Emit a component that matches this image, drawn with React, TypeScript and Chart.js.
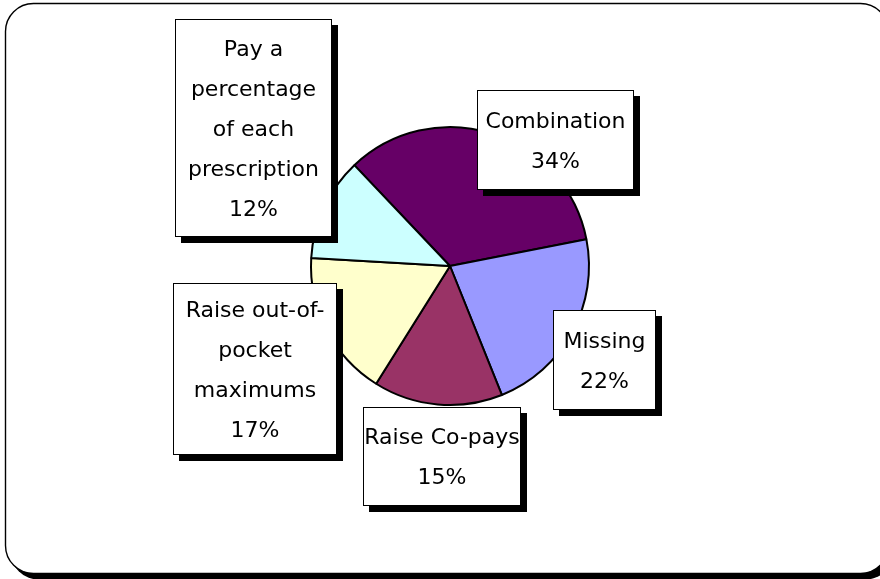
import React, { useEffect, useRef } from "react";
import { Chart, registerables } from "chart.js";

Chart.register(...registerables);

// ---- Data ----
const categories = [
  "Combination",
  "Missing",
  "Raise Co-pays",
  "Raise out-of-pocket maximums",
  "Pay a percentage of each prescription",
];
const values = [34, 22, 15, 17, 12];
const labelLines = [
  ["Combination"],
  ["Missing"],
  ["Raise Co-pays"],
  ["Raise out-of-", "pocket", "maximums"],
  ["Pay a", "percentage", "of each", "prescription"],
];
const sliceColors = ["#660066", "#9999FF", "#993366", "#FFFFCC", "#CCFFFF"];

// ---- Layout (label box placement, in canvas pixels) ----
const labelBoxes = [
  { x: 477, y: 90, w: 157, h: 100 },
  { x: 553, y: 310, w: 103, h: 100 },
  { x: 363, y: 407, w: 158, h: 99 },
  { x: 173, y: 283, w: 164, h: 172 },
  { x: 175, y: 19, w: 157, h: 218 },
];

const FONT = '22px "DejaVu Sans", sans-serif';
const LINE_H = 40;
const SHADOW = 6;

function roundRectPath(ctx: CanvasRenderingContext2D, x: number, y: number, w: number, h: number, r: number) {
  ctx.beginPath();
  ctx.moveTo(x + r, y);
  ctx.lineTo(x + w - r, y);
  ctx.arcTo(x + w, y, x + w, y + r, r);
  ctx.lineTo(x + w, y + h - r);
  ctx.arcTo(x + w, y + h, x + w - r, y + h, r);
  ctx.lineTo(x + r, y + h);
  ctx.arcTo(x, y + h, x, y + h - r, r);
  ctx.lineTo(x, y + r);
  ctx.arcTo(x, y, x + r, y, r);
  ctx.closePath();
}

const framePlugin = {
  id: "frame",
  beforeDraw(chart: any) {
    const ctx: CanvasRenderingContext2D = chart.ctx;
    ctx.save();
    ctx.fillStyle = "#ffffff";
    ctx.fillRect(0, 0, chart.width, chart.height);
    const x = 5.5, y = 3.5, w = 883, h = 570, r = 28;
    ctx.fillStyle = "#000000";
    roundRectPath(ctx, x + 5, y + 6, w, h, r);
    ctx.fill();
    ctx.fillStyle = "#ffffff";
    roundRectPath(ctx, x, y, w, h, r);
    ctx.fill();
    ctx.strokeStyle = "#000000";
    ctx.lineWidth = 1.4;
    ctx.stroke();
    ctx.restore();
  },
};

const labelPlugin = {
  id: "sliceLabels",
  afterDraw(chart: any) {
    const ctx: CanvasRenderingContext2D = chart.ctx;
    ctx.save();
    labelBoxes.forEach((b, i) => {
      ctx.fillStyle = "#000000";
      ctx.fillRect(b.x + SHADOW, b.y + SHADOW, b.w, b.h);
      ctx.fillStyle = "#ffffff";
      ctx.fillRect(b.x, b.y, b.w, b.h);
      ctx.strokeStyle = "#000000";
      ctx.lineWidth = 1;
      ctx.strokeRect(b.x + 0.5, b.y + 0.5, b.w - 1, b.h - 1);
      const lines = [...labelLines[i], `${values[i]}%`];
      ctx.fillStyle = "#000000";
      ctx.font = FONT;
      ctx.textAlign = "center";
      ctx.textBaseline = "middle";
      const cx = b.x + b.w / 2;
      const cy = b.y + b.h / 2 + 2;
      const start = cy - ((lines.length - 1) * LINE_H) / 2;
      lines.forEach((t, k) => ctx.fillText(t, cx, start + k * LINE_H));
    });
    ctx.restore();
  },
};

export default function App() {
  const ref = useRef<HTMLCanvasElement | null>(null);
  useEffect(() => {
    if (!ref.current) return;
    const chart = new Chart(ref.current, {
      type: "pie",
      data: {
        labels: categories,
        datasets: [
          {
            data: values,
            backgroundColor: sliceColors,
            borderColor: "#000000",
            borderWidth: 2,
          },
        ],
      },
      options: {
        responsive: false,
        animation: false,
        rotation: -43.5,
        layout: { padding: { left: 310, right: 290, top: 126, bottom: 173 } },
        plugins: {
          legend: { display: false },
          tooltip: { enabled: false },
        },
      },
      plugins: [framePlugin, labelPlugin],
    });
    return () => chart.destroy();
  }, []);
  return (
    <div style={{ position: "absolute", left: 0, top: 0, width: 880, height: 579 }}>
      <canvas ref={ref} width={880} height={579} style={{ display: "block" }} />
    </div>
  );
}
